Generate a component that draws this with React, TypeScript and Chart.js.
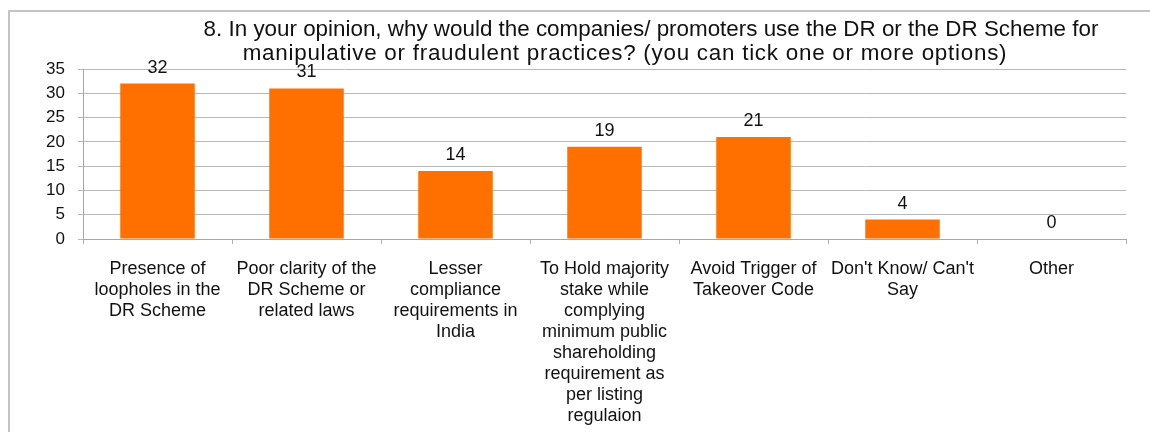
import React, { useEffect, useRef } from "react";
import { Chart, registerables } from "chart.js";

Chart.register(...registerables);

const titleLines: string[] = [
  "8. In your opinion, why would the companies/ promoters use the DR or the DR Scheme for",
  "manipulative or fraudulent practices? (you can tick one or more options)",
];

const categories: string[][] = [
  ["Presence of", "loopholes in the", "DR Scheme"],
  ["Poor clarity of the", "DR Scheme or", "related laws"],
  ["Lesser", "compliance", "requirements in", "India"],
  [
    "To Hold majority",
    "stake while",
    "complying",
    "minimum public",
    "shareholding",
    "requirement as",
    "per listing",
    "regulaion",
  ],
  ["Avoid Trigger of", "Takeover Code"],
  ["Don't Know/ Can't", "Say"],
  ["Other"],
];

const responses: number[] = [32, 31, 14, 19, 21, 4, 0];

const yMin = 0;
const yMax = 35;
const yStep = 5;

const FONT = '"Liberation Sans", Arial, sans-serif';

const valueLabels = {
  id: "valueLabels",
  afterDatasetsDraw(chart: any) {
    const ctx = chart.ctx;
    const meta = chart.getDatasetMeta(0);
    ctx.save();
    ctx.font = `18px ${FONT}`;
    ctx.fillStyle = "#111111";
    ctx.textAlign = "center";
    ctx.textBaseline = "alphabetic";
    meta.data.forEach((bar: any, i: number) => {
      ctx.fillText(String(responses[i]), bar.x, bar.y - 11);
    });
    ctx.restore();
  },
};

const titlePlugin = {
  id: "titleLines",
  afterDraw(chart: any) {
    const ctx = chart.ctx;
    ctx.save();
    ctx.font = `22.4px ${FONT}`;
    ctx.fillStyle = "#111111";
    ctx.textAlign = "center";
    ctx.textBaseline = "alphabetic";
    ctx.fillText(titleLines[0], 641, 24);
    try {
      (ctx as any).letterSpacing = "0.75px";
    } catch (e) {}
    ctx.fillText(titleLines[1], 615, 48);
    ctx.restore();
  },
};

export default function App() {
  const ref = useRef<HTMLCanvasElement | null>(null);

  useEffect(() => {
    document.documentElement.style.overflow = "hidden";
    if (!ref.current) return;
    const chart = new Chart(ref.current, {
      type: "bar",
      data: {
        labels: categories,
        datasets: [
          {
            data: responses,
            backgroundColor: "#FF7000",
            borderWidth: 0,
            barPercentage: 0.5,
            categoryPercentage: 1,
          },
        ],
      },
      options: {
        animation: false,
        responsive: false,
        layout: { padding: { top: 57, right: 24, left: 0, bottom: 0 } },
        plugins: {
          legend: { display: false },
          title: { display: false },
          tooltip: { enabled: false },
        },
        scales: {
          x: {
            offset: true,
            grid: {
              offset: true,
              drawOnChartArea: false,
              drawTicks: true,
              tickLength: 5,
              color: "#b0b0b0",
            },
            border: { display: true, color: "#a8a8a8", width: 1 },
            ticks: {
              color: "#111111",
              font: { family: FONT, size: 18, lineHeight: 1.16 },
              padding: 15,
              maxRotation: 0,
              autoSkip: false,
            },
            afterFit(scale: any) {
              scale.height = 193;
            },
          },
          y: {
            min: yMin,
            max: yMax,
            ticks: {
              stepSize: yStep,
              color: "#111111",
              font: { family: FONT, size: 17 },
              padding: 13,
            },
            grid: {
              color: "#b8b8b8",
              tickLength: 5,
              drawTicks: true,
            },
            border: { display: true, color: "#a8a8a8", width: 1 },
            afterFit(scale: any) {
              scale.width = 73;
            },
          },
        },
      },
      plugins: [valueLabels, titlePlugin],
    });
    return () => chart.destroy();
  }, []);

  return (
    <div
      style={{
        position: "fixed",
        left: 8,
        top: 10,
        right: 0,
        bottom: 0,
        overflow: "hidden",
        borderTop: "2px solid #c4c4c4",
        borderLeft: "2px solid #c4c4c4",
        background: "#ffffff",
      }}
    >
      <canvas
        ref={ref}
        width={1140}
        height={420}
        style={{ display: "block", width: 1140, height: 420 }}
      />
    </div>
  );
}
